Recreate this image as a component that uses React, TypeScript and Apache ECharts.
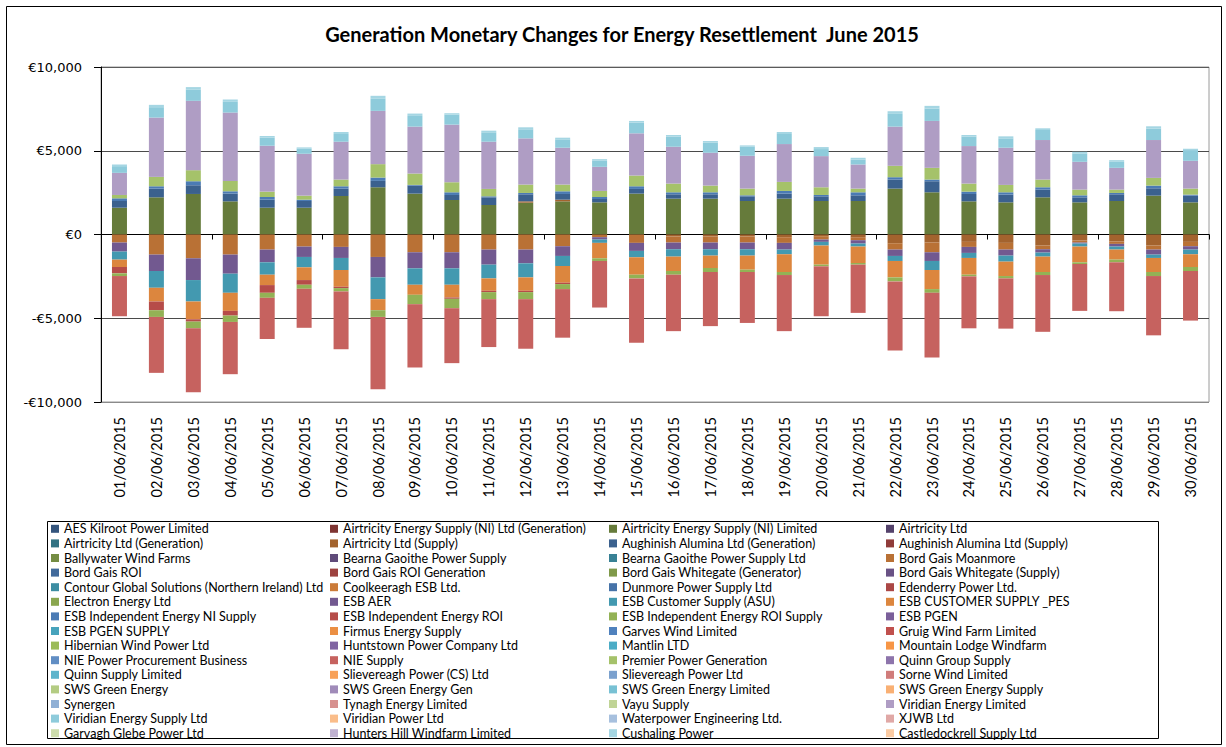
import React, { useEffect, useRef } from "react";
import * as echarts from "echarts";

const dates = [
  "01/06/2015", "02/06/2015", "03/06/2015", "04/06/2015", "05/06/2015", "06/06/2015",
  "07/06/2015", "08/06/2015", "09/06/2015", "10/06/2015", "11/06/2015", "12/06/2015",
  "13/06/2015", "14/06/2015", "15/06/2015", "16/06/2015", "17/06/2015", "18/06/2015",
  "19/06/2015", "20/06/2015", "21/06/2015", "22/06/2015", "23/06/2015", "24/06/2015",
  "25/06/2015", "26/06/2015", "27/06/2015", "28/06/2015", "29/06/2015", "30/06/2015",
];

const participants = [
  "AES Kilroot Power Limited", "Airtricity Energy Supply (NI) Ltd (Generation)", "Airtricity Energy Supply (NI) Limited", "Airtricity Ltd",
  "Airtricity Ltd (Generation)", "Airtricity Ltd (Supply)", "Aughinish Alumina Ltd (Generation)", "Aughinish Alumina Ltd (Supply)",
  "Ballywater Wind Farms", "Bearna Gaoithe Power Supply", "Bearna Gaoithe Power Supply Ltd", "Bord Gais Moanmore",
  "Bord Gais ROI", "Bord Gais ROI Generation", "Bord Gais Whitegate (Generator)", "Bord Gais Whitegate (Supply)",
  "Contour Global Solutions (Northern Ireland) Ltd", "Coolkeeragh ESB Ltd.", "Dunmore Power Supply Ltd", "Edenderry Power Ltd.",
  "Electron Energy Ltd", "ESB AER", "ESB Customer Supply (ASU)", "ESB CUSTOMER SUPPLY _PES",
  "ESB Independent Energy NI Supply", "ESB Independent Energy ROI", "ESB Independent Energy ROI Supply", "ESB PGEN",
  "ESB PGEN SUPPLY", "Firmus Energy Supply", "Garves Wind Limited", "Gruig Wind Farm Limited",
  "Hibernian Wind Power Ltd", "Huntstown Power Company Ltd", "Mantlin LTD", "Mountain Lodge Windfarm",
  "NIE Power Procurement Business", "NIE Supply", "Premier Power Generation", "Quinn Group Supply",
  "Quinn Supply Limited", "Slievereagh Power (CS) Ltd", "Slievereagh Power Ltd", "Sorne Wind Limited",
  "SWS Green Energy", "SWS Green Energy Gen", "SWS Green Energy Limited", "SWS Green Energy Supply",
  "Synergen", "Tynagh Energy Limited", "Vayu Supply", "Viridian Energy Limited",
  "Viridian Energy Supply Ltd", "Viridian Power Ltd", "Waterpower Engineering Ltd.", "XJWB Ltd",
  "Garvagh Glebe Power Ltd", "Hunters Hill Windfarm Limited", "Cushaling Power", "Castledockrell Supply Ltd",
];

// Values in EUR per settlement day
const airtricityEnergySupplyNILimited = [1600, 2220, 2420, 1980, 1600, 1600, 2300, 2820, 2440, 2060, 1760, 1900, 1980, 1920, 2440, 2140, 2140, 2000, 2140, 2000, 2000, 2740, 2520, 1980, 1920, 2220, 1920, 2000, 2320, 1920];
const airtricityLtdSupply = [0, 0, 0, 0, 0, 0, 0, 0, 0, 0, 0, 80, 100, 0, 0, -120, -120, -120, -160, -100, -160, -520, -480, -440, -500, -660, -360, -420, -660, -440];
const aughinishAluminaGeneration = [400, 520, 520, 460, 480, 400, 440, 380, 480, 300, 460, 420, 340, 200, 280, 260, 260, 280, 300, 280, 340, 540, 660, 440, 460, 460, 300, 400, 440, 400];
const bordGaisMoanmore = [-480, -1200, -1420, -1200, -900, -720, -740, -1340, -1060, -1060, -900, -900, -700, -160, -500, -360, -360, -360, -340, -200, -180, -380, -580, -300, -400, -220, -120, -140, -240, -260];
const esbAer = [-540, -980, -1300, -1140, -760, -620, -660, -1220, -960, -960, -900, -820, -580, -140, -480, -400, -400, -400, -400, -140, -200, -380, -520, -360, -360, -200, -60, -160, -300, -200];
const esbCustomerSupplyAsu = [-480, -1000, -1280, -1140, -740, -620, -720, -1300, -980, -980, -820, -840, -600, -200, -380, -440, -380, -380, -280, -220, -180, -300, -540, -300, -360, -240, -180, -180, -200, -280];
const esbCustomerSupplyPes = [-440, -820, -1060, -1080, -620, -760, -1000, -660, -600, -760, -740, -800, -1000, -920, -1040, -860, -740, -840, -1060, -1140, -980, -980, -1140, -1000, -860, -920, -940, -600, -840, -760];
const esbIndependentNISupply = [160, 140, 240, 140, 160, 80, 140, 200, 40, 160, 60, 80, 160, 120, 160, 120, 120, 60, 160, 80, 180, 140, 100, 140, 140, 140, 120, 80, 160, 60];
const esbIndependentROI = [-380, -520, -140, -280, -460, -280, -80, 0, 0, -80, -80, -80, -80, 0, 0, 0, 0, 0, 0, 0, 0, 0, 0, 0, 0, 0, 0, 0, 0, 0];
const esbIndependentROISupply = [-160, -400, -400, -380, -300, -240, -200, -400, -560, -560, -420, -420, -300, -160, -220, -220, -240, -140, -180, -100, -100, -240, -220, -100, -140, -180, -100, -160, -240, -240];
const nieSupply = [-2400, -3340, -3820, -3120, -2460, -2330, -3450, -4320, -3780, -3280, -2860, -2960, -2900, -2780, -3840, -3370, -3230, -3040, -3350, -2980, -2880, -4120, -3860, -3100, -3000, -3390, -2800, -2920, -3540, -2960];
const premierPowerGeneration = [200, 560, 660, 620, 320, 240, 400, 800, 680, 600, 440, 500, 400, 360, 640, 520, 400, 400, 540, 460, 220, 680, 700, 480, 440, 460, 340, 200, 460, 360];
const viridianEnergyLimited = [1320, 3540, 4140, 4080, 2740, 2500, 2260, 3180, 2800, 3440, 2820, 2760, 2200, 1440, 2520, 2200, 1960, 1960, 2260, 1860, 1440, 2340, 2800, 2240, 2220, 2360, 1660, 1300, 2260, 1660];
const viridianEnergySupply = [400, 620, 660, 640, 480, 300, 460, 720, 640, 600, 560, 540, 500, 360, 640, 600, 600, 540, 600, 420, 300, 760, 740, 560, 560, 600, 500, 360, 680, 640];
const cushalingPower = [100, 140, 160, 140, 100, 80, 120, 180, 140, 80, 100, 120, 100, 100, 100, 100, 100, 80, 120, 120, 100, 160, 160, 100, 120, 100, 100, 100, 140, 80];

const seriesValues: Record<string, number[]> = {
  "Airtricity Energy Supply (NI) Limited": airtricityEnergySupplyNILimited,
  "Airtricity Ltd (Supply)": airtricityLtdSupply,
  "Aughinish Alumina Ltd (Generation)": aughinishAluminaGeneration,
  "Bord Gais Moanmore": bordGaisMoanmore,
  "ESB AER": esbAer,
  "ESB Customer Supply (ASU)": esbCustomerSupplyAsu,
  "ESB CUSTOMER SUPPLY _PES": esbCustomerSupplyPes,
  "ESB Independent Energy NI Supply": esbIndependentNISupply,
  "ESB Independent Energy ROI": esbIndependentROI,
  "ESB Independent Energy ROI Supply": esbIndependentROISupply,
  "NIE Supply": nieSupply,
  "Premier Power Generation": premierPowerGeneration,
  "Viridian Energy Limited": viridianEnergyLimited,
  "Viridian Energy Supply Ltd": viridianEnergySupply,
  "Cushaling Power": cushalingPower,
};

const yTicks = [-10000, -5000, 0, 5000, 10000];

// Office 2007 style palette variations
const BASE = ["#4F81BD", "#C0504D", "#9BBB59", "#8064A2", "#4BACC6", "#F79646"];
const SHADE = [0.66, 0.75, 0.82, 0.89, 0.95, 1.0];
const TINT = [0.1, 0.25, 0.37, 0.5];

function paletteColor(i: number): string {
  const block = Math.floor(i / 6);
  const hex = BASE[i % 6];
  const rgb = [1, 3, 5].map((k) => parseInt(hex.slice(k, k + 2), 16));
  let out: number[];
  if (block < SHADE.length) {
    out = rgb.map((c) => Math.round(c * SHADE[block]));
  } else {
    const t = TINT[Math.min(block - SHADE.length, TINT.length - 1)];
    out = rgb.map((c) => Math.round(c + (255 - c) * t));
  }
  return "#" + out.map((c) => c.toString(16).padStart(2, "0")).join("");
}

function euro(v: number): string {
  const s = Math.abs(v).toLocaleString("en-US");
  return (v < 0 ? "-€" : "€") + s;
}

export default function App() {
  const ref = useRef<HTMLDivElement>(null);

  useEffect(() => {
    if (!ref.current) return;
    const chart = echarts.init(ref.current, null, { renderer: "svg" });

    const series = participants.map((name, i) => ({
      name,
      type: "bar",
      stack: "total",
      xAxisIndex: 0,
      barWidth: 15,
      itemStyle: { color: paletteColor(i) },
      emphasis: { disabled: true },
      data: seriesValues[name] ? seriesValues[name] : [],
    }));

    const legendLefts = [51, 330, 609, 886];
    const legends = legendLefts.map((left, col) => ({
      orient: "vertical",
      left,
      top: 521.5,
      padding: 0,
      itemWidth: 8,
      itemHeight: 8,
      itemGap: 0,
      icon: "rect",
      selectedMode: false,
      data: participants.filter((_, i) => i % 4 === col),
      textStyle: { fontFamily: "Lato", fontSize: 12.5, color: "#000", lineHeight: 14.6 },
    }));

    chart.setOption({
      animation: false,
      backgroundColor: "#fff",
      title: {
        text: "Generation Monetary Changes for Energy Resettlement  June 2015",
        left: 617,
        top: 19,
        textAlign: "center",
        textStyle: { fontFamily: "Lato", fontWeight: "bold", fontSize: 20, color: "#000" },
      },
      legend: legends,
      grid: {
        left: 101,
        top: 67,
        right: 17,
        bottom: 345,
        containLabel: false,
        outerBoundsMode: "none",
        show: true,
        borderColor: "#9a9a9a",
        borderWidth: 1,
      },
      xAxis: [
        {
          type: "category",
          data: dates,
          position: "bottom",
          axisLine: { show: false, onZero: false },
          axisTick: { show: false },
          axisLabel: { rotate: 90, margin: 15, fontFamily: "Lato", fontSize: 14.5, color: "#000" },
        },
        {
          type: "category",
          data: dates,
          position: "bottom",
          axisLine: { show: true, onZero: true, lineStyle: { color: "#000", width: 1 } },
          axisTick: { show: true, length: 5, inside: false, lineStyle: { color: "#000" } },
          axisLabel: { show: false },
          splitLine: { show: false },
        },
      ],
      yAxis: {
        type: "value",
        min: yTicks[0],
        max: yTicks[yTicks.length - 1],
        interval: 5000,
        axisLine: { show: true, lineStyle: { color: "#000" } },
        axisTick: { show: true, length: 7, lineStyle: { color: "#000" } },
        axisLabel: {
          margin: 19,
          fontFamily: "DejaVu Sans",
          fontSize: 13,
          color: "#000",
          formatter: (v: number) => euro(v),
        },
        splitLine: {
          show: true,
          lineStyle: { color: ["#8a8a8a", "#4a4a4a", "#4a4a4a", "#4a4a4a", "#5a5a5a"], width: 1 },
        },
      },
      graphic: [
        {
          type: "rect",
          shape: { x: 6.5, y: 6.5, width: 1215, height: 738 },
          style: { fill: "none", stroke: "#000", lineWidth: 1 },
          silent: true,
          z: 100,
        },
        {
          type: "rect",
          shape: { x: 47.5, y: 521.5, width: 1111, height: 217 },
          style: { fill: "none", stroke: "#000", lineWidth: 1 },
          silent: true,
          z: 100,
        },
      ],
      series,
    });

    return () => chart.dispose();
  }, []);

  return (
    <div
      ref={ref}
      style={{ position: "fixed", left: 0, top: 0, width: 1226, height: 747 }}
    />
  );
}
